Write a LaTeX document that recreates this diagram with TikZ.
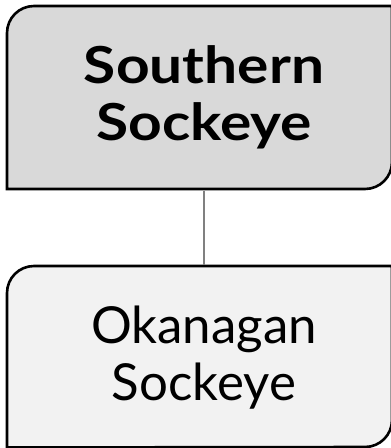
\documentclass[tikz,border=0pt]{standalone}
\usepackage{fontspec}
\setmainfont{Lato}
\definecolor{topfill}{HTML}{D9D9D9}
\definecolor{botfill}{HTML}{F2F2F2}
\definecolor{linkgrey}{HTML}{808080}
\newcommand{\widebold}[1]{\scalebox{1.15}[1]{\bfseries #1}}
\tikzset{
  boxnode/.style={rectangle, draw=none, minimum width=384pt, inner sep=0pt, align=center, font=\fontsize{51}{57}\selectfont},
  boxline/.style={draw=black, line width=2.6pt},
  link/.style={draw=linkgrey, line width=2.2pt}
}
\begin{document}
\begin{tikzpicture}[x=1pt,y=-1pt]
\useasboundingbox (0,0) rectangle (391,448);
% top box
\path[fill=topfill, boxline] (7,33) arc[start angle=180, end angle=270, radius=27] -- (392,6) -- (392,162) arc[start angle=0, end angle=90, radius=27] -- (7,189) -- cycle;
% bottom box
\path[fill=botfill, boxline] (7,293) arc[start angle=180, end angle=270, radius=27] -- (392,266) -- (392,420) arc[start angle=0, end angle=90, radius=27] -- (7,447.5) -- cycle;
\node[boxnode, minimum height=183pt] (south) at (204,97.5) {\widebold{Southern}\\\widebold{Sockeye}};
\node[boxnode, minimum height=181pt] (okan) at (204,358) {Okanagan\\Sockeye};
\coordinate (s1) at (204,190.5);
\coordinate (s2) at (204,264.5);
\draw[link] (s1) -- (s2);
\end{tikzpicture}
\end{document}
